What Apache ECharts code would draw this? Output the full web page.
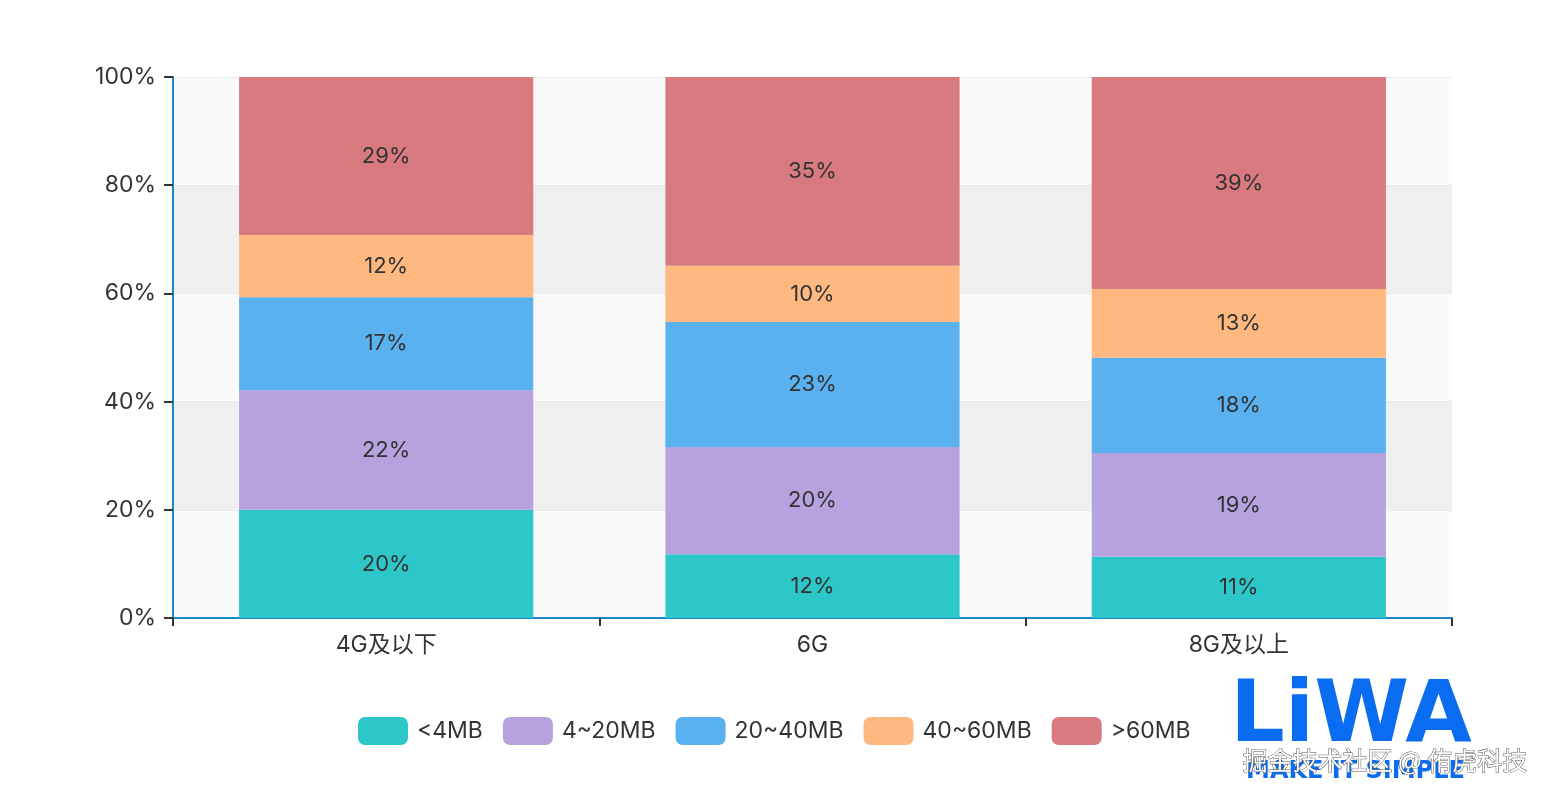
<!DOCTYPE html>
<html><head><meta charset="utf-8">
<script src="https://cdn.jsdelivr.net/npm/echarts@6/dist/echarts.min.js"></script>
<style>html,body{margin:0;padding:0;background:#fff}#c{width:1550px;height:800px}</style>
</head><body><div id="c"></div>
<script>
const categories = ['4G及以下', '6G', '8G及以上'];
const seriesNames = ['<4MB', '4~20MB', '20~40MB', '40~60MB', '>60MB'];
const s_lt4 = [20.0, 11.8, 11.3];
const s_4_20 = [22.1, 19.8, 19.2];
const s_20_40 = [17.2, 23.1, 17.6];
const s_40_60 = [11.5, 10.4, 12.7];
const s_gt60 = [29.2, 34.9, 39.2];
const yTicks = [0, 20, 40, 60, 80, 100];
const colors = ['#2ec7c9', '#b6a2de', '#5ab1ef', '#ffb980', '#d87a80'];
const FONT = "Inter, 'Noto Sans CJK SC', sans-serif";

const allData = [s_lt4, s_4_20, s_20_40, s_40_60, s_gt60];
const chart = echarts.init(document.getElementById('c'));
chart.setOption({
  animation: false,
  color: colors,
  textStyle: { fontFamily: FONT },
  grid: { left: 173, right: 98, top: 77, bottom: 182 },
  legend: {
    data: seriesNames,
    bottom: 50, left: 353,
    itemWidth: 50, itemHeight: 28, itemGap: 20,
    icon: 'roundRect',
    textStyle: { fontSize: 23, color: '#333', fontFamily: FONT, padding: [0, 0, 0, 4] }
  },
  xAxis: {
    type: 'category', data: categories,
    axisLine: { lineStyle: { color: '#1a87c6', width: 2 } },
    axisTick: { show: true, length: 8, lineStyle: { color: '#333', width: 2 } },
    axisLabel: { fontSize: 23, color: '#333', margin: 16 }
  },
  yAxis: {
    type: 'value', min: yTicks[0], max: yTicks[yTicks.length - 1], interval: 20,
    axisLine: { show: true, lineStyle: { color: '#1a87c6', width: 2 } },
    axisTick: { show: true, length: 9, lineStyle: { color: '#333', width: 2 } },
    axisLabel: { fontSize: 23, color: '#333', margin: 17, formatter: '{value}%' },
    splitLine: { show: true, lineStyle: { color: '#eaeaea', width: 1 } },
    splitArea: { show: true, areaStyle: { color: ['rgba(250,250,250,1)', 'rgba(239,239,239,1)'] } }
  },
  series: seriesNames.map((n, i) => ({
    name: n, type: 'bar', stack: 'total', barWidth: '69%',
    data: allData[i],
    label: { show: true, position: 'inside', fontSize: 22, color: '#333',
      formatter: p => Math.round(p.value) + '%' }
  })),
  graphic: [
    { type: 'text', left: 1230, top: 676, z: 100,
      style: { text: 'LiWA', font: 'bold 86px "DejaVu Sans", sans-serif', fill: '#0a6cf0' } },
    { type: 'text', left: 1246, top: 760, z: 100,
      style: { text: 'MAKE IT SIMPLE', font: 'bold 24px "DejaVu Sans", sans-serif', fill: '#0a6cf0' } },
    { type: 'text', left: 1242, top: 747, z: 101,
      style: { text: '掘金技术社区 @ 侑虎科技', font: '25px "Noto Sans CJK SC"', fill: '#fff', stroke: '#555', lineWidth: 1 } }
  ]
});
</script></body></html>
